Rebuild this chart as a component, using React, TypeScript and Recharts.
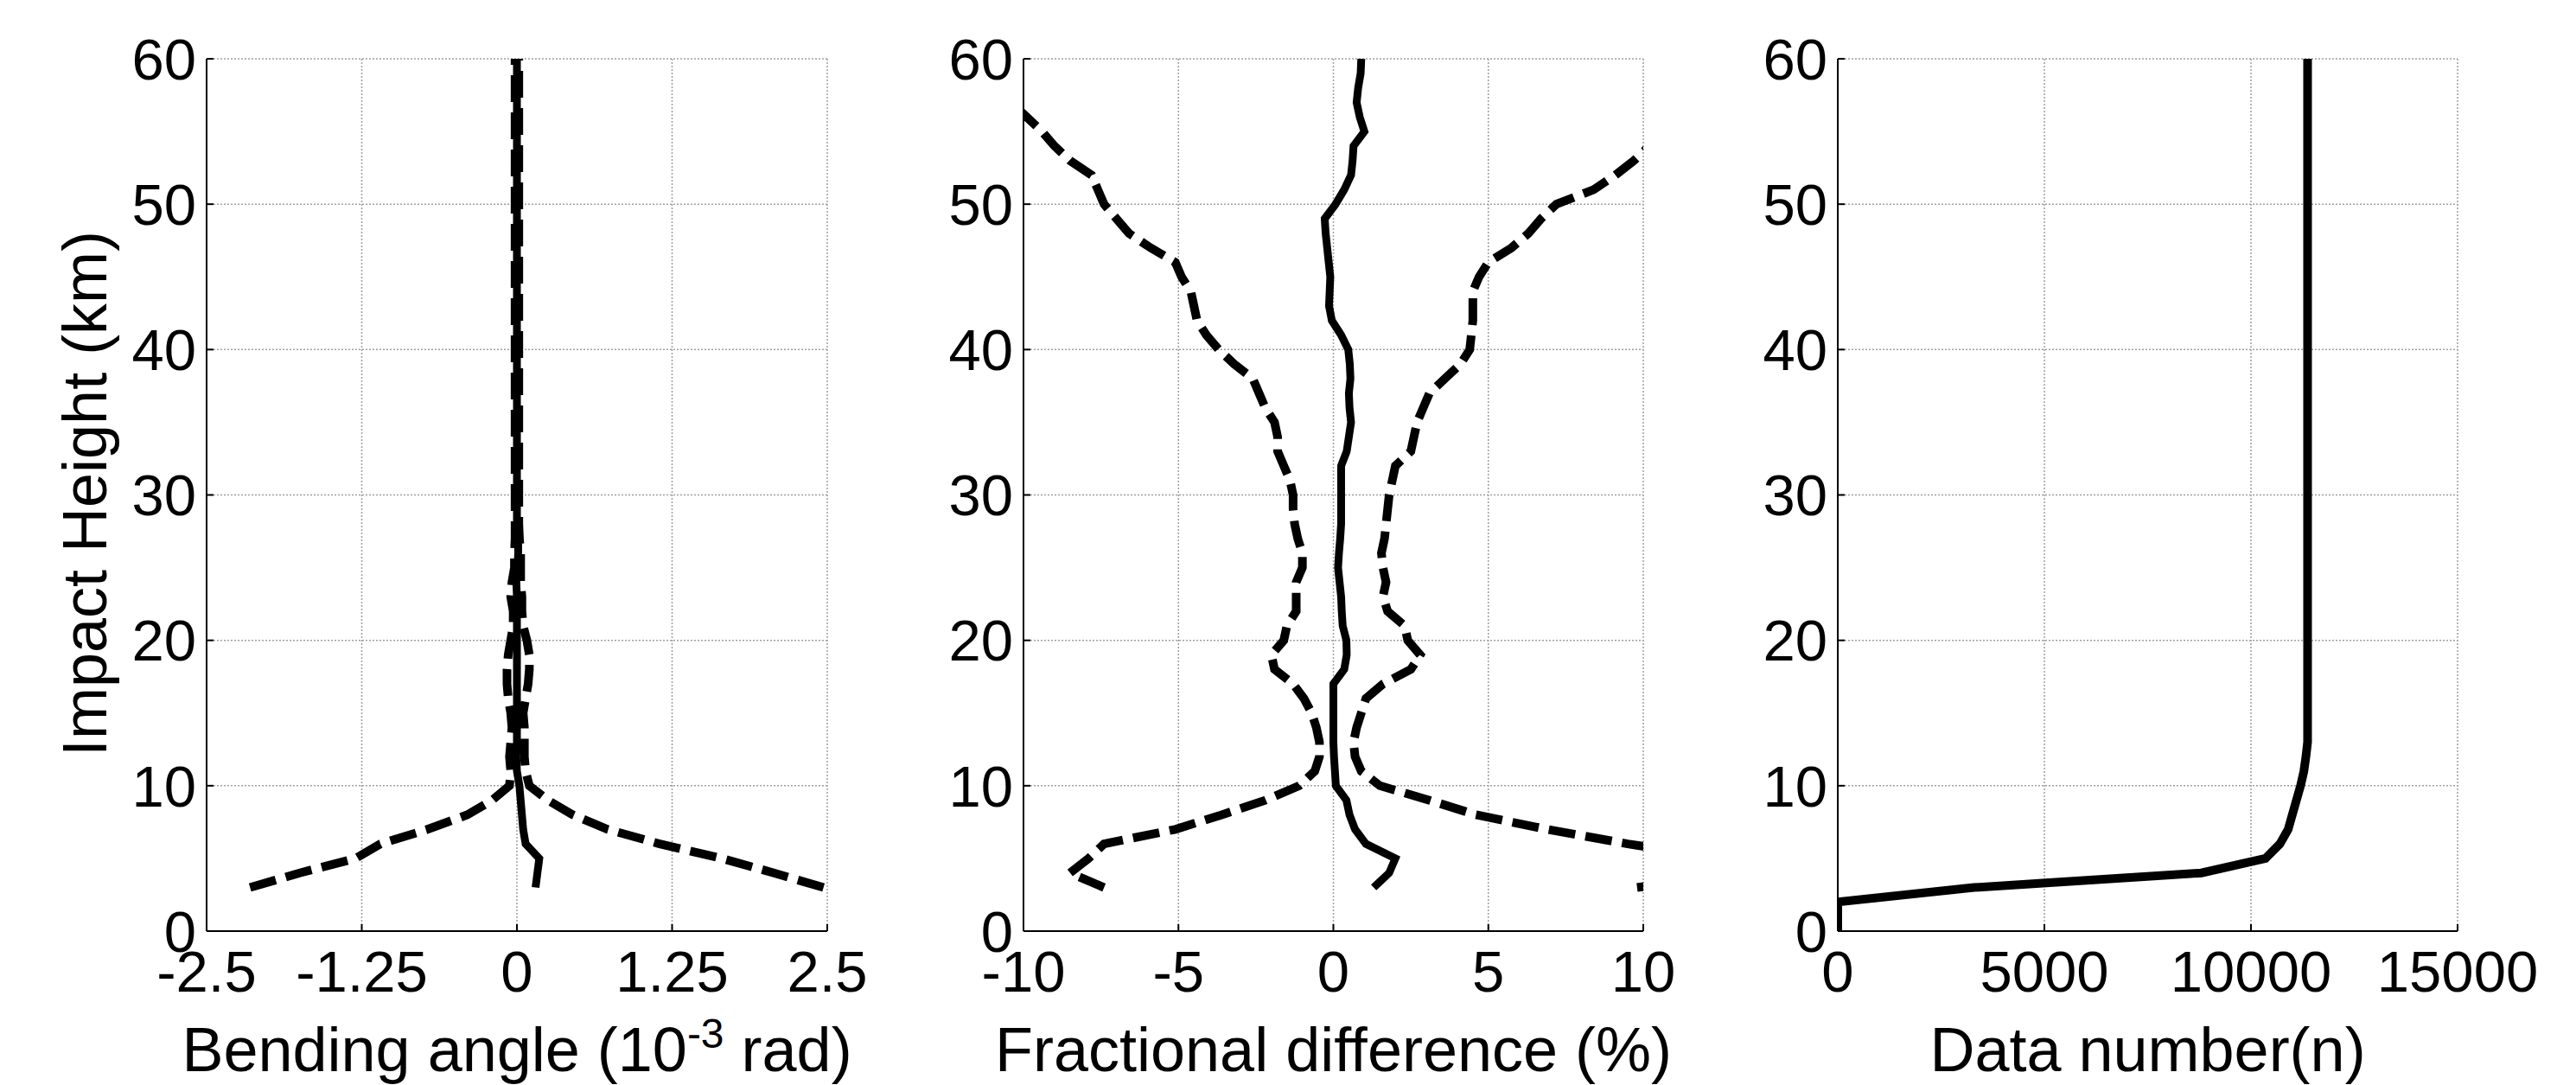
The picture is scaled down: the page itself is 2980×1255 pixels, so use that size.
// Three side-by-side profile panels (impact height on y):
// bending-angle difference, fractional difference (mean ± std), data count.

import React from 'react'
import { LineChart, Line, XAxis, YAxis, CartesianGrid } from 'recharts'

const FONT = "'Liberation Sans', Arial, Helvetica, sans-serif"

// ---- data ----

// heights (km) for the bending angle and fractional difference profiles
const HEIGHT_KM = [
  3, 4, 5, 6, 7, 8, 9, 10, 11, 12,
  13, 14, 15, 16, 17, 18, 19, 20, 21, 22,
  23, 24, 25, 26, 27, 28, 29, 30, 31, 32,
  33, 34, 35, 36, 37, 38, 39, 40, 41, 42,
  43, 44, 45, 46, 47, 48, 49, 50, 51, 52,
  53, 54, 55, 56, 57, 58, 59, 60,
]

// bending angle (10^-3 rad)
const BEND_MEAN = [
  0.15, 0.165, 0.18, 0.07, 0.05, 0.04, 0.03, 0.02, 0.0, -0.005,
  0, 0, 0, 0, 0, 0, 0, 0, 0, 0,
  0, -0.005, 0.005, 0.01, 0.01, 0, 0, 0, 0, 0,
  0, 0, 0, 0, 0, 0, 0, 0, 0, 0,
  0, 0, 0, 0, 0, 0, 0, 0, 0, 0,
  0, 0, 0, 0, 0, 0, 0, 0,
]
const BEND_LO = [
  -2.15, -1.75, -1.3, -1.1, -0.72, -0.4, -0.2, -0.06, -0.05, -0.06,
  -0.05, -0.04, -0.05, -0.07, -0.08, -0.08, -0.07, -0.05, -0.03, -0.03,
  -0.05, -0.04, -0.02, -0.02, -0.015, -0.015, -0.015, -0.015, -0.015, -0.015,
  -0.015, -0.015, -0.015, -0.015, -0.015, -0.015, -0.015, -0.015, -0.015, -0.015,
  -0.015, -0.015, -0.015, -0.015, -0.015, -0.015, -0.015, -0.015, -0.015, -0.015,
  -0.015, -0.015, -0.015, -0.015, -0.015, -0.015, -0.015, -0.015,
]
const BEND_HI = [
  2.47, 2.07, 1.65, 1.15, 0.73, 0.45, 0.25, 0.1, 0.07, 0.06,
  0.06, 0.06, 0.05, 0.07, 0.09, 0.1, 0.1, 0.08, 0.05, 0.04,
  0.04, 0.03, 0.03, 0.03, 0.02, 0.015, 0.015, 0.015, 0.015, 0.015,
  0.015, 0.015, 0.015, 0.015, 0.015, 0.015, 0.015, 0.015, 0.015, 0.015,
  0.015, 0.015, 0.015, 0.015, 0.015, 0.015, 0.015, 0.015, 0.015, 0.015,
  0.015, 0.015, 0.015, 0.015, 0.015, 0.015, 0.015, 0.015,
]

// fractional difference (%)
const FRAC_MEAN = [
  1.3, 1.8, 2.0, 1.05, 0.7, 0.52, 0.42, 0.08, 0.05, 0.02,
  0.0, 0.0, 0.0, 0.0, 0.0, 0.35, 0.43, 0.42, 0.3, 0.27,
  0.25, 0.2, 0.15, 0.18, 0.22, 0.25, 0.25, 0.25, 0.25, 0.25,
  0.43, 0.5, 0.57, 0.52, 0.5, 0.55, 0.53, 0.48, 0.25, -0.05,
  -0.14, -0.12, -0.1, -0.15, -0.2, -0.25, -0.28, 0.07, 0.35, 0.57,
  0.62, 0.65, 1.0, 0.85, 0.75, 0.8, 0.88, 0.9,
]
const FRAC_LO = [
  -7.4, -8.5, -7.9, -7.4, -5.1, -3.6, -2.2, -1.1, -0.6, -0.45,
  -0.45, -0.55, -0.7, -0.95, -1.3, -1.9, -2.0, -1.6, -1.5, -1.2,
  -1.2, -1.2, -1.0, -1.0, -1.15, -1.25, -1.3, -1.3, -1.4, -1.6,
  -1.8, -1.8, -1.9, -2.2, -2.4, -2.6, -3.2, -3.7, -4.1, -4.4,
  -4.5, -4.6, -4.9, -5.1, -5.9, -6.6, -7.0, -7.4, -7.6, -7.8,
  -8.5, -9.0, -9.4, -9.9, -10.4, -11.0, -11.6, -12.2,
]
const FRAC_HI = [
  9.8, 13.5, 12.5, 9.5, 6.9, 4.6, 3.1, 1.5, 0.9, 0.7,
  0.65, 0.75, 0.9, 1.05, 1.6, 2.5, 2.8, 2.4, 2.3, 1.75,
  1.6, 1.7, 1.6, 1.55, 1.65, 1.7, 1.75, 1.8, 1.9, 2.0,
  2.5, 2.6, 2.7, 2.9, 3.1, 3.6, 4.1, 4.4, 4.45, 4.5,
  4.5, 4.5, 4.7, 5.0, 5.75, 6.3, 6.7, 7.2, 8.4, 9.1,
  9.7, 10.2, 10.8, 11.4, 12.0, 12.6, 13.2, 13.8,
]

// data number profile
const COUNT_HEIGHT_KM = [0, 1, 2, 3, 4, 5, 6, 7, 8, 9, 10, 11, 12, 13, 20, 30, 40, 50, 60]
const DATA_COUNT = [
  0, 0, 0, 3300, 8800, 10350, 10700, 10900, 11000, 11100,
  11200, 11280, 11330, 11370, 11370, 11370, 11370, 11370, 11370,
]

// ticks
const HEIGHT_TICKS = [0, 10, 20, 30, 40, 50, 60]
const BEND_TICKS = [-2.5, -1.25, 0, 1.25, 2.5]
const FRAC_TICKS = [-10, -5, 0, 5, 10]
const COUNT_TICKS = [0, 5000, 10000, 15000]

// ---- layout ----
const CHART_H = 1255
const PLOT_TOP = 68
const PLOT_BOTTOM = 1077
const Y_AXIS_W = 150
const X_LABEL_BASELINE = 1239
const TICK_FONT = 67
const LABEL_FONT = 72

type Series = { key: string; dashed?: boolean; width: number }

type PanelProps = {
  left: number
  width: number
  plotLeft: number
  plotRight: number
  rows: Record<string, number>[]
  series: Series[]
  xDomain: [number, number]
  xTicks: number[]
  xLabel: React.ReactNode
  yLabel?: string
}

const tickStyle = { fontSize: TICK_FONT, fill: '#000', fontFamily: FONT }
const blackLine = { stroke: '#000', strokeWidth: 2 }

const Panel = (p: PanelProps) => {
  const plotL = p.plotLeft - p.left
  const plotR = p.plotRight - p.left
  const cx = (plotL + plotR) / 2
  const yLabelX = 123 - p.left
  const yLabelY = 571

  return (
    <div style={{ position: 'absolute', left: p.left, top: 0, width: p.width, height: CHART_H }}>
      <LineChart
        layout="vertical"
        width={p.width}
        height={CHART_H}
        data={p.rows}
        margin={{ top: PLOT_TOP, right: p.width - plotR, bottom: 0, left: plotL - Y_AXIS_W }}
      >
        <CartesianGrid stroke="#a0a0a0" strokeWidth={1.5} strokeDasharray="2 2" />
        <XAxis
          type="number"
          domain={p.xDomain}
          ticks={p.xTicks}
          allowDataOverflow
          interval={0}
          height={CHART_H - PLOT_BOTTOM}
          tick={tickStyle}
          tickSize={-8}
          tickMargin={30}
          tickLine={blackLine}
          axisLine={blackLine}
          label={() => (
            <text x={cx} y={X_LABEL_BASELINE} textAnchor="middle" fontSize={LABEL_FONT} fill="#000" fontFamily={FONT}>
              {p.xLabel}
            </text>
          )}
        />
        <XAxis
          xAxisId="top"
          orientation="top"
          type="number"
          domain={p.xDomain}
          ticks={p.xTicks}
          allowDataOverflow
          height={0}
          tick={false}
          tickSize={-8}
          tickLine={blackLine}
          axisLine={blackLine}
        />
        <YAxis
          type="number"
          dataKey="h"
          domain={[0, 60]}
          ticks={HEIGHT_TICKS}
          reversed
          allowDataOverflow
          interval={0}
          width={Y_AXIS_W}
          tick={tickStyle}
          tickSize={-8}
          tickMargin={20}
          tickLine={blackLine}
          axisLine={blackLine}
          label={
            p.yLabel
              ? () => (
                  <text
                    x={yLabelX}
                    y={yLabelY}
                    transform={`rotate(-90 ${yLabelX} ${yLabelY})`}
                    textAnchor="middle"
                    fontSize={LABEL_FONT}
                    fill="#000"
                    fontFamily={FONT}
                  >
                    {p.yLabel}
                  </text>
                )
              : undefined
          }
        />
        <YAxis
          yAxisId="right"
          orientation="right"
          type="number"
          domain={[0, 60]}
          ticks={HEIGHT_TICKS}
          reversed
          allowDataOverflow
          width={0}
          tick={false}
          tickSize={-8}
          tickLine={blackLine}
          axisLine={blackLine}
        />
        {p.series.map((s) => (
          <Line
            key={s.key}
            type="linear"
            dataKey={s.key}
            stroke="#000"
            strokeWidth={s.width}
            strokeDasharray={s.dashed ? '31 12' : undefined}
            dot={false}
            activeDot={false}
            isAnimationActive={false}
          />
        ))}
      </LineChart>
    </div>
  )
}

const bendRows = HEIGHT_KM.map((h, i) => ({ h, mean: BEND_MEAN[i], lo: BEND_LO[i], hi: BEND_HI[i] }))
const fracRows = HEIGHT_KM.map((h, i) => ({ h, mean: FRAC_MEAN[i], lo: FRAC_LO[i], hi: FRAC_HI[i] }))
const countRows = COUNT_HEIGHT_KM.map((h, i) => ({ h, n: DATA_COUNT[i] }))

const spreadSeries: Series[] = [
  { key: 'mean', width: 9 },
  { key: 'lo', dashed: true, width: 10 },
  { key: 'hi', dashed: true, width: 10 },
]

export default function App() {
  return (
    <div
      style={{
        position: 'absolute',
        left: 0,
        top: 0,
        width: 2980,
        height: CHART_H,
        background: '#fff',
        fontFamily: FONT,
        overflow: 'hidden',
      }}
    >
      <Panel
        left={0}
        width={1030}
        plotLeft={239}
        plotRight={957}
        rows={bendRows}
        series={spreadSeries}
        xDomain={[-2.5, 2.5]}
        xTicks={BEND_TICKS}
        yLabel="Impact Height (km)"
        xLabel={
          <>
            Bending angle (10
            <tspan fontSize={48} dy={-27}>-3</tspan>
            <tspan dy={27}> rad)</tspan>
          </>
        }
      />
      <Panel
        left={1030}
        width={940}
        plotLeft={1184}
        plotRight={1901}
        rows={fracRows}
        series={spreadSeries}
        xDomain={[-10, 10]}
        xTicks={FRAC_TICKS}
        xLabel="Fractional difference (%)"
      />
      <Panel
        left={1970}
        width={1010}
        plotLeft={2126}
        plotRight={2843}
        rows={countRows}
        series={[{ key: 'n', width: 10 }]}
        xDomain={[0, 15000]}
        xTicks={COUNT_TICKS}
        xLabel="Data number(n)"
      />
    </div>
  )
}
